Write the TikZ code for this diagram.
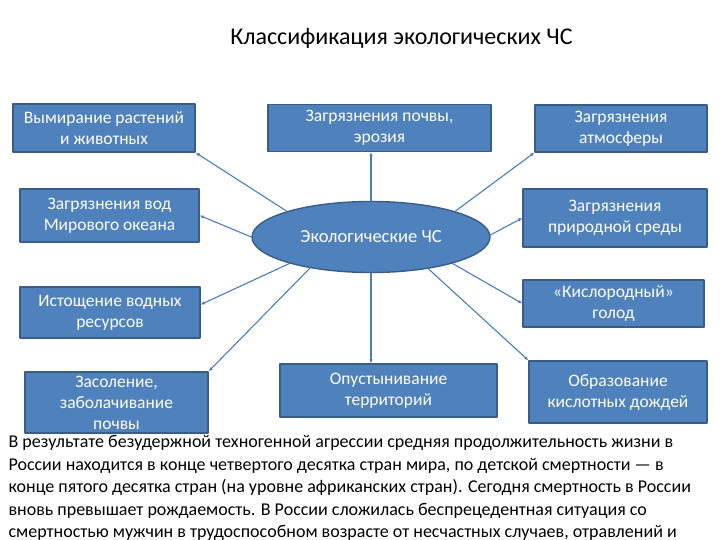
\documentclass[tikz,border=0pt]{standalone}
\usepackage{fontspec}
\setmainfont{Carlito}
\usetikzlibrary{shapes.geometric,arrows.meta}
\definecolor{boxblue}{HTML}{4F81BD}
\definecolor{boxedge}{HTML}{385D8A}
\definecolor{linkblue}{HTML}{4A7EBB}
\begin{document}
\begin{tikzpicture}[x=1pt,y=-1pt,line width=1.1pt,>={Latex[length=4pt,width=3.5pt]},
  line cap=round,line join=round,font=\fontsize{17.5}{21}\selectfont,
  chs/.style={draw=boxedge,fill=boxblue,text=white,align=center,
    inner sep=0pt,line width=1.4pt},
  link/.style={draw=linkblue,->}]
  \useasboundingbox (0,0) rectangle (720,540);
  % title
  \node (title) at (401.5,38) {\fontsize{24}{28}\selectfont Классификация экологических ЧС};
  % centre
  \node[chs,ellipse,minimum width=238,minimum height=71,font=\fontsize{18.5}{22}\selectfont]
    (eco) at (371,237) {Экологические ЧС};
  % left column
  \node[chs,minimum width=182,minimum height=48] (vym) at (104,128) {Вымирание растений\\и животных};
  \node[chs,minimum width=179,minimum height=53] (vod) at (109.5,215.5) {Загрязнения вод\\Мирового океана};
  \node[chs,minimum width=180,minimum height=51] (ist) at (110,312.5) {Истощение водных\\ресурсов};
  \node[chs,minimum width=183,minimum height=61] (zas) at (116.5,402.5) {Засоление,\\заболачивание\\почвы};
  % middle column
  \node[chs,minimum width=223,minimum height=47] (poch) at (379.5,128) {Загрязнения почвы,\\эрозия};
  \node[chs,minimum width=217,minimum height=53] (opus) at (388.5,390.5) {Опустынивание\\территорий};
  % right column
  \node[chs,minimum width=172,minimum height=47] (atm) at (621,128.5) {Загрязнения\\атмосферы};
  \node[chs,minimum width=184,minimum height=58] (prir) at (615,218) {Загрязнения\\природной среды};
  \node[chs,minimum width=181,minimum height=47] (kis) at (613.5,303.5) {«Кислородный»\\голод};
  \node[chs,minimum width=178,minimum height=62] (obr) at (618,392) {Образование\\кислотных дождей};
  % links from the ellipse
  \draw[link] (eco.163) -- (vym.south east);
  \draw[link] (eco.180) -- (vod.east);
  \draw[link] (eco.198) -- (ist.5);
  \draw[link] (eco.207) -- (zas.north east);
  \draw[link] (eco.north) -- (eco.north |- poch.south);
  \draw[link] (eco.south) -- (eco.south |- opus.north);
  \draw[link] (eco.17) -- (atm.south west);
  \draw[link] (eco.1) -- (prir.west);
  \draw[link] (eco.342) -- (kis.west);
  \draw[link] (eco.331) -- (obr.north west);
  % text below
  \node[anchor=north west,inner sep=0pt,align=left,
    font=\fontsize{18}{22.5}\selectfont] (note) at (8,435)
    {В результате безудержной техногенной агрессии средняя продолжительность жизни в\\
     России находится в конце четвертого десятка стран мира, по детской смертности — в\\
     конце пятого десятка стран (на уровне африканских стран). Сегодня смертность в России\\
     вновь превышает рождаемость. В России сложилась беспрецедентная ситуация со\\
     смертностью мужчин в трудоспособном возрасте от несчастных случаев, отравлений и};
\end{tikzpicture}
\end{document}
